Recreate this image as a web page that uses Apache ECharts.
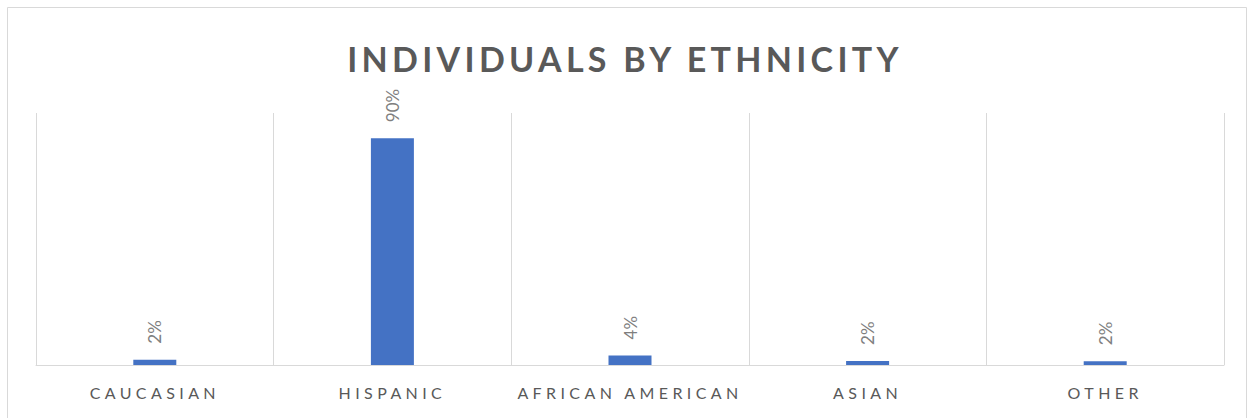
<!DOCTYPE html>
<html>
<head>
<meta charset="utf-8">
<script src="https://cdn.jsdelivr.net/npm/echarts@6/dist/echarts.min.js"></script>
<style>
  html, body { margin: 0; padding: 0; background: #fff; }
  #chart { width: 1250px; height: 418px; }
</style>
</head>
<body>
<div id="chart"></div>
<script>
const categories = ['CAUCASIAN', 'HISPANIC', 'AFRICAN AMERICAN', 'ASIAN', 'OTHER'];
const shares = [2.1, 90, 3.8, 1.6, 1.5];
const titleText = 'INDIVIDUALS BY ETHNICITY';

const chart = echarts.init(document.getElementById('chart'), null, { renderer: 'svg' });

chart.setOption({
  animation: false,
  graphic: [{
    type: 'rect',
    shape: { x: 7.5, y: 7.5, width: 1239, height: 420 },
    style: { fill: 'none', stroke: '#d9d9d9', lineWidth: 1 },
    silent: true
  }],
  title: {
    text: titleText,
    left: 'center',
    top: 36,
    textStyle: { fontFamily: 'Lato', fontWeight: 'bold', fontSize: 34, color: '#595959' }
  },
  grid: { left: 36, right: 26, top: 113, bottom: 53, containLabel: false },
  xAxis: {
    type: 'category',
    data: categories,
    axisLine: { lineStyle: { color: '#d9d9d9', width: 1 } },
    axisTick: { show: false },
    axisLabel: { color: '#595959', fontFamily: 'Lato', fontSize: 16, margin: 19 },
    splitLine: { show: true, interval: 0, lineStyle: { color: '#d9d9d9', width: 1 } }
  },
  yAxis: {
    type: 'value',
    min: 0,
    max: 100,
    show: false
  },
  series: [{
    type: 'bar',
    data: shares,
    barWidth: 43,
    itemStyle: { color: '#4472c4' },
    label: {
      show: true,
      position: 'top',
      distance: 16,
      rotate: 90,
      align: 'left',
      verticalAlign: 'middle',
      color: '#7f7f7f',
      fontFamily: 'Lato',
      fontSize: 17,
      formatter: p => Math.round(p.value) + '%'
    }
  }]
});

// letter spacing for title and category labels, like the original
function spaceLetters() {
  document.querySelectorAll('#chart svg text').forEach(t => {
    const s = t.textContent;
    if (s === titleText) t.style.letterSpacing = '4.3px';
    else if (categories.includes(s)) t.style.letterSpacing = '4.4px';
  });
}
chart.on('finished', spaceLetters);
spaceLetters();
</script>
</body>
</html>
